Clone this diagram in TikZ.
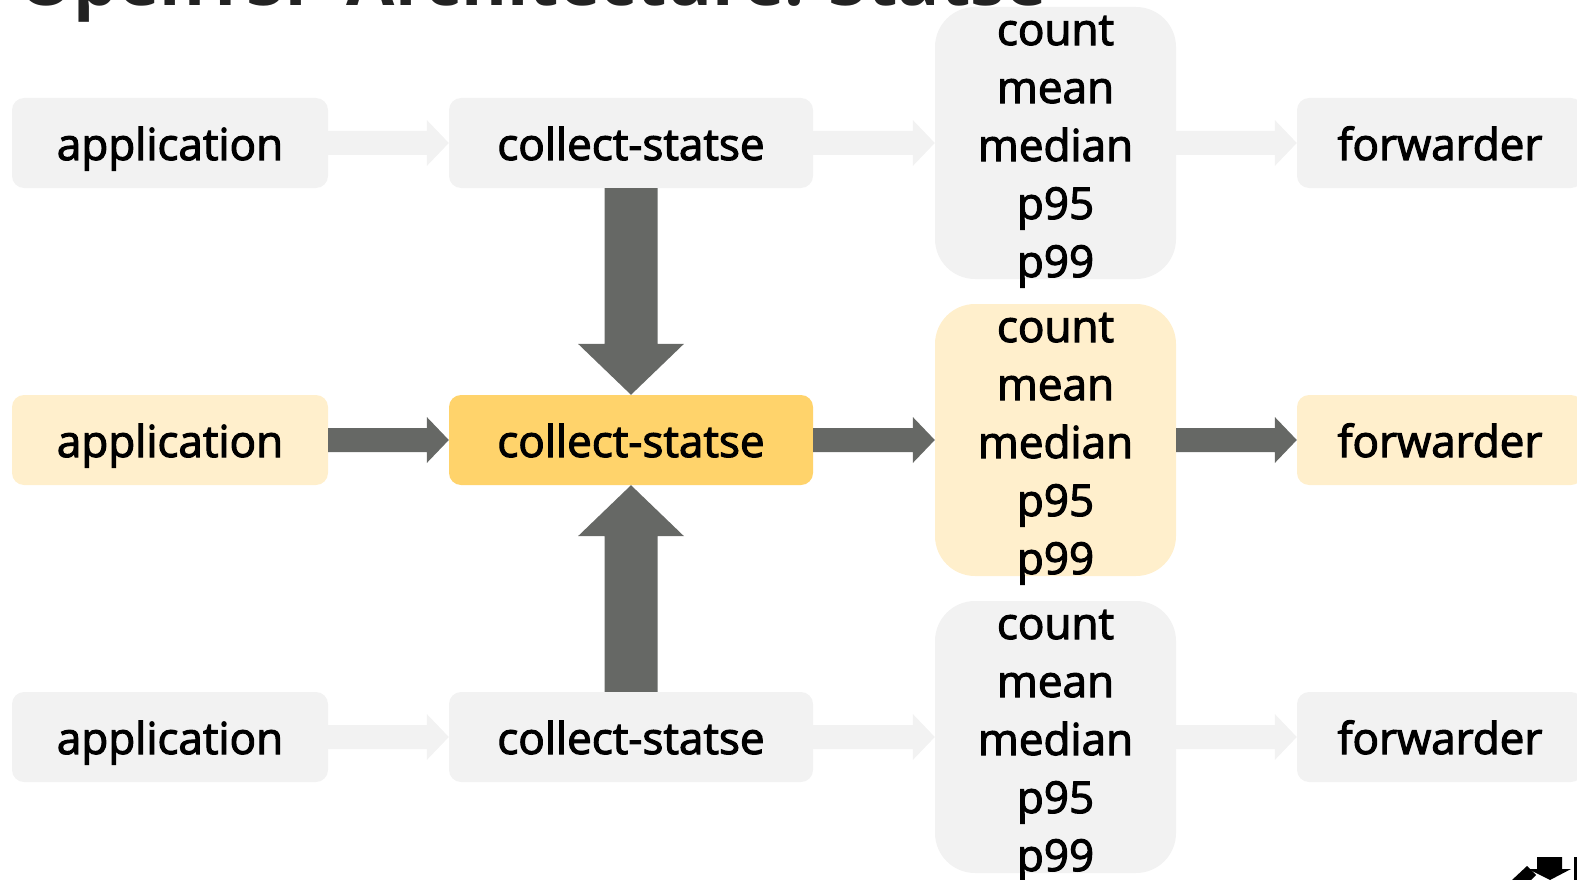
\documentclass[tikz,border=0pt]{standalone}
\usepackage{fontspec}
\setmainfont{Open Sans}
\newfontfamily\labelfont{Open Sans}[FakeBold=2.5]
\usetikzlibrary{calc}
\definecolor{boxgray}{HTML}{F2F2F2}
\definecolor{boxcream}{HTML}{FFEFCC}
\definecolor{boxgold}{HTML}{FFD36B}
\definecolor{arrowdark}{HTML}{666865}
\definecolor{titlecol}{HTML}{222222}
\newcommand\harrow[3]{\fill[#3] let \p1=(#1), \p2=(#2) in (\x1,\y1+12pt) -- (\x2-22pt,\y1+12pt) -- (\x2-22pt,\y1+23pt) -- (\x2,\y1) -- (\x2-22pt,\y1-23pt) -- (\x2-22pt,\y1-12pt) -- (\x1,\y1-12pt) -- cycle;}
\newcommand\downarrowfat[2]{\fill[arrowdark] let \p1=(#1), \p2=(#2) in (\x1-26.5pt,\y1) -- (\x1-26.5pt,\y2+51pt) -- (\x1-53pt,\y2+51pt) -- (\x1,\y2) -- (\x1+53pt,\y2+51pt) -- (\x1+26.5pt,\y2+51pt) -- (\x1+26.5pt,\y1) -- cycle;}
\newcommand\uparrowfat[2]{\fill[arrowdark] let \p1=(#1), \p2=(#2) in (\x1-26.5pt,\y1) -- (\x1-26.5pt,\y2-51pt) -- (\x1-53pt,\y2-51pt) -- (\x1,\y2) -- (\x1+53pt,\y2-51pt) -- (\x1+26.5pt,\y2-51pt) -- (\x1+26.5pt,\y1) -- cycle;}
\begin{document}
\begin{tikzpicture}[x=1pt,y=-1pt,
  lbl/.style={font=\labelfont\fontsize{44}{58}\selectfont, text=black, inner sep=0pt},
  small/.style={rounded corners=12pt, inner sep=0pt, minimum height=90pt},
  appbox/.style={small, minimum width=316pt},
  colbox/.style={small, minimum width=364pt},
  fwdbox/.style={small, minimum width=286pt},
  statbox/.style={rounded corners=40pt, minimum width=241pt, minimum height=272pt, inner sep=0pt},
  stattext/.style={lbl, align=center},
  gray/.style={fill=boxgray},
  cream/.style={fill=boxcream},
  gold/.style={fill=boxgold}]
\useasboundingbox (0,0) rectangle (1577,880);
\node[anchor=base west, font=\fontsize{70}{76}\selectfont\bfseries, text=titlecol, inner sep=0pt] (title) at (18,6) {OpenTSP Architecture: Statse};
% row nodes
\foreach \r/\y/\c/\m in {1/143/gray/gray, 2/440/cream/gold, 3/737/gray/gray}{
  \node[appbox, \c] (app\r) at (170,\y) {};
  \node[colbox, \m] (col\r) at (631,\y) {};
  \node[statbox, \c] (st\r) at (1055.5,\y) {};
  \node[fwdbox, \c] (fwd\r) at (1440,\y) {};
  \node[lbl, anchor=base] (appt\r) at ($(app\r.center)+(0,17)$) {application};
  \node[lbl, anchor=base] (colt\r) at ($(col\r.center)+(0,17)$) {collect-statse};
  \node[lbl, anchor=base] (fwdt\r) at ($(fwd\r.center)+(0,17)$) {forwarder};
  \node[stattext, anchor=north] (stt\r) at ($(st\r.north)+(0,9)$) {count\\mean\\median\\p95\\p99};
}
% horizontal arrows
\harrow{app1.east}{col1.west}{boxgray}
\harrow{col1.east}{st1.west}{boxgray}
\harrow{st1.east}{fwd1.west}{boxgray}
\harrow{app2.east}{col2.west}{arrowdark}
\harrow{col2.east}{st2.west}{arrowdark}
\harrow{st2.east}{fwd2.west}{arrowdark}
\harrow{app3.east}{col3.west}{boxgray}
\harrow{col3.east}{st3.west}{boxgray}
\harrow{st3.east}{fwd3.west}{boxgray}
% vertical arrows
\downarrowfat{col1.south}{col2.north}
\uparrowfat{col3.north}{col2.south}
% corner logo fragment
\fill[black] (1537,857) -- (1562,857) -- (1562,869) -- (1571,869) -- (1550,880) -- (1528,869) -- (1537,869) -- cycle;
\fill[black] (1512,880) -- (1527,866) -- (1536,875) -- (1531,880) -- cycle;
\fill[black] (1574,857) rectangle (1577,880);
\end{tikzpicture}
\end{document}
